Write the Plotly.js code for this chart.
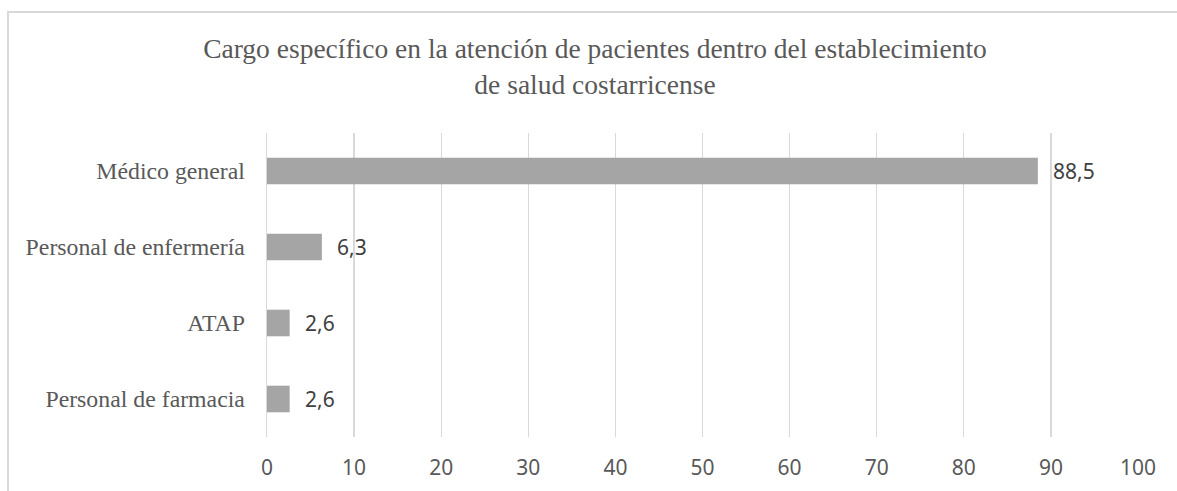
<!DOCTYPE html>
<html>
<head>
<meta charset="utf-8">
<script src="https://cdn.plot.ly/plotly-3.0.1.min.js"></script>
<style>
  html, body { margin: 0; padding: 0; background: #fff; }
  #wrap { position: relative; width: 1177px; height: 491px; overflow: hidden; }
  #chart { position: absolute; left: 0; top: 0; width: 1177px; height: 491px; }
  #frame { position: absolute; left: 7px; top: 11px; width: 1300px; height: 600px;
           border-left: 2px solid #d9d9d9; border-top: 2px solid #d9d9d9; pointer-events: none; }
</style>
</head>
<body>
<div id="wrap">
  <div id="chart"></div>
  <div id="frame"></div>
</div>
<script>
const categories = ["Médico general", "Personal de enfermería", "ATAP", "Personal de farmacia"];
const values = [88.5, 6.3, 2.6, 2.6];
const tickValues = [0, 10, 20, 30, 40, 50, 60, 70, 80, 90, 100];
const titleText = "Cargo específico en la atención de pacientes dentro del establecimiento<br>de salud costarricense";

const serif = "Liberation Serif, Times New Roman, serif";
const sans = "Noto Sans, Open Sans, sans-serif";

const trace = {
  type: "bar",
  orientation: "h",
  x: values,
  y: categories,
  marker: { color: "#a5a5a5" },
  hoverinfo: "none"
};

const annotations = categories.map((c, i) => ({
  x: values[i],
  y: c,
  xref: "x",
  yref: "y",
  text: values[i].toFixed(1).replace(".", ","),
  showarrow: false,
  xanchor: "left",
  yanchor: "middle",
  xshift: 13,
  font: { family: sans, size: 21, color: "#404040" }
}));

const layout = {
  width: 1177,
  height: 491,
  margin: { l: 267, r: 39, t: 133, b: 54 },
  paper_bgcolor: "rgba(0,0,0,0)",
  plot_bgcolor: "rgba(0,0,0,0)",
  separators: ",.",
  showlegend: false,
  bargap: 0.65,
  title: {
    text: titleText,
    x: 595 / 1177,
    xanchor: "center",
    xref: "container",
    y: 1 - 58 / 491,
    yanchor: "middle",
    yref: "container",
    font: { family: serif, size: 27.5, color: "#595959" }
  },
  xaxis: {
    range: [0, 100],
    tickvals: tickValues,
    ticktext: tickValues.map(String),
    showgrid: true,
    gridcolor: "#d9d9d9",
    gridwidth: 1.3,
    zeroline: false,
    showline: false,
    ticks: "",
    ticklabelstandoff: 16,
    tickfont: { family: sans, size: 21, color: "#595959" },
    fixedrange: true
  },
  yaxis: {
    type: "category",
    autorange: "reversed",
    showgrid: false,
    zeroline: false,
    showline: true,
    linecolor: "#d9d9d9",
    linewidth: 1.3,
    ticks: "",
    ticklabelstandoff: 16,
    tickfont: { family: serif, size: 23.8, color: "#595959" },
    fixedrange: true
  },
  annotations: annotations
};

Plotly.newPlot("chart", [trace], layout, { displayModeBar: false, staticPlot: true });
</script>
</body>
</html>
